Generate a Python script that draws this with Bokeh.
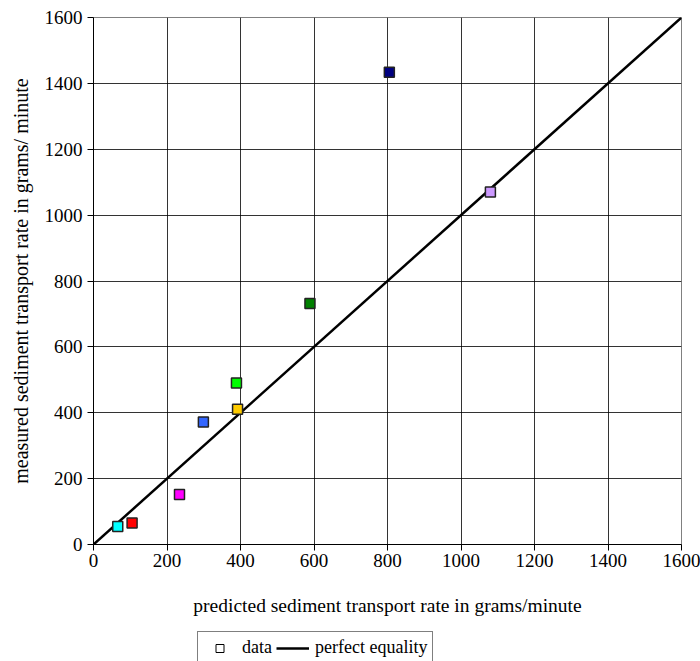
from bokeh.plotting import figure
from bokeh.layouts import column
from bokeh.models import Range1d, Legend, LegendItem, FixedTicker, LinearAxis, Grid
from bokeh.embed import file_html
from bokeh.resources import INLINE

predicted = [66, 105, 234, 299, 389, 392, 589, 805, 1080]
measured = [55, 65, 152, 372, 490, 411, 732, 1434, 1070]
colors = ["#00FFFF", "#FF0000", "#FF00FF", "#3366FF", "#00FF00", "#FFCC00", "#008000", "#000080", "#CC99FF"]
equality_x = [0, 1600]
equality_y = [0, 1600]
ticks = [0, 200, 400, 600, 800, 1000, 1200, 1400, 1600]
legend_labels = ["data", "perfect equality"]

FONT = "'Liberation Serif', 'Times New Roman', serif"

p = figure(width=700, height=625, output_backend="svg", toolbar_location=None,
           x_range=Range1d(0, 1600), y_range=Range1d(0, 1600),
           x_axis_type=None, y_axis_type=None,
           min_border_left=93, min_border_top=17, min_border_right=19, min_border_bottom=81)
p.outline_line_color = "#808080"
p.outline_line_width = 1

xaxis = LinearAxis(ticker=FixedTicker(ticks=ticks),
                   axis_label="predicted sediment transport rate in grams/minute",
                   major_label_standoff=3, axis_label_standoff=25)
yaxis = LinearAxis(ticker=FixedTicker(ticks=ticks),
                   axis_label="measured sediment transport rate in grams/ minute",
                   major_label_standoff=5, axis_label_standoff=10)
for ax in (xaxis, yaxis):
    ax.minor_tick_line_color = None
    ax.major_tick_in = 0
    ax.major_tick_out = 6
    ax.axis_line_color = "black"
    ax.major_tick_line_color = "black"
    ax.major_label_text_font = FONT
    ax.major_label_text_font_size = "19px"
    ax.major_label_text_color = "black"
    ax.axis_label_text_font = FONT
    ax.axis_label_text_font_style = "normal"
    ax.axis_label_text_color = "black"
xaxis.axis_label_text_font_size = "19.5px"
yaxis.axis_label_text_font_size = "20px"
p.add_layout(xaxis, "below")
p.add_layout(yaxis, "left")

p.add_layout(Grid(dimension=0, ticker=FixedTicker(ticks=ticks), grid_line_color="black",
                  grid_line_alpha=0.8, grid_line_width=1))
p.add_layout(Grid(dimension=1, ticker=FixedTicker(ticks=ticks), grid_line_color="black",
                  grid_line_alpha=0.8, grid_line_width=1))

p.line(equality_x, equality_y, line_color="black", line_width=2.5)
p.scatter(predicted, measured, marker="square", size=10, fill_color=colors,
          line_color="#222222", line_width=1.5)

# legend strip below the chart
lg = figure(width=700, height=36, output_backend="svg", toolbar_location=None,
            x_range=Range1d(0, 1), y_range=Range1d(0, 1),
            min_border=0, x_axis_type=None, y_axis_type=None)
lg.outline_line_color = None
lg.grid.visible = False
proxy_pt = lg.scatter([-5], [-5], marker="square", size=8, fill_color="white",
                      line_color="black", line_width=1)
proxy_ln = lg.line([-5, -4], [-5, -4], line_color="black", line_width=2.5)

legend = Legend(items=[LegendItem(label=legend_labels[0], renderers=[proxy_pt]),
                       LegendItem(label=legend_labels[1], renderers=[proxy_ln])],
                orientation="horizontal", location=(104, -3),
                label_text_font=FONT, label_text_font_size="18px",
                label_text_color="black",
                border_line_color="black", border_line_width=1,
                padding=5, spacing=4, glyph_width=33, label_standoff=6,
                margin=0, background_fill_alpha=1)
lg.add_layout(legend, "center")

layout = column(p, lg, spacing=0)
open("out.html", "w").write(file_html(layout, INLINE))
